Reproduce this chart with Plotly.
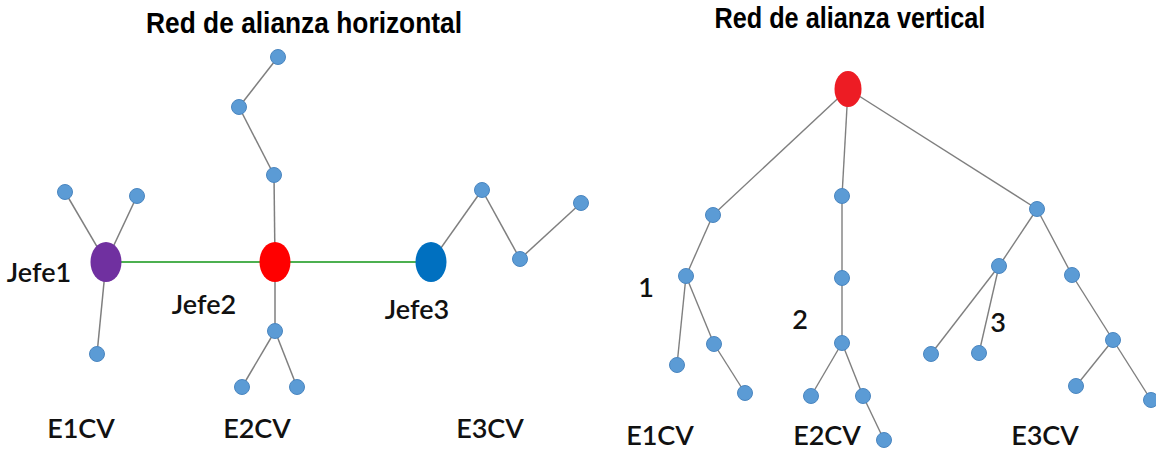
import json
import plotly.graph_objects as go

# ---------------- data ----------------
titles = ["Red de alianza horizontal", "Red de alianza vertical"]
title_x = [304, 850]
title_y = [22, 17]

# Horizontal alliance network (positions in picture units)
h_x = [106, 275, 431, 65, 137, 97, 274, 239, 278, 275, 242, 297, 482, 520, 581]
h_y = [262, 262, 262, 192, 196, 354, 175, 107, 57, 331, 387, 387, 190, 259, 203]
h_edges = [(0, 3), (0, 4), (0, 5), (1, 6), (6, 7), (7, 8), (1, 9), (9, 10), (9, 11),
           (2, 12), (12, 13), (13, 14)]
h_leader_edges = [(0, 1), (1, 2)]
h_leaders = [0, 1, 2]
h_leader_colors = ["#7030A0", "#FF0000", "#0070C0"]

# Vertical alliance network
v_x = [848, 713, 842, 1037, 686, 677, 714, 745, 842, 842, 811, 863, 884,
       999, 1072, 931, 979, 1113, 1076, 1151]
v_y = [89, 215, 196, 209, 276, 365, 344, 393, 278, 343, 396, 396, 440,
       266, 275, 354, 353, 340, 386, 400]
v_edges = [(0, 1), (0, 2), (0, 3), (1, 4), (4, 5), (4, 6), (6, 7), (2, 8), (8, 9),
           (9, 10), (9, 11), (11, 12), (3, 13), (3, 14), (13, 15), (13, 16),
           (14, 17), (17, 18), (17, 19)]
v_root = 0
v_root_color = "#ED1C24"

labels = ["Jefe1", "Jefe2", "Jefe3", "E1CV", "E2CV", "E3CV",
          "1", "2", "3", "E1CV", "E2CV", "E3CV"]
label_x = [39, 204, 417, 81, 257, 490, 646, 800, 998, 660, 827, 1045]
label_y = [275, 307, 312, 431, 431, 431, 290, 322, 325, 438, 438, 438]

# ---------------- styles ----------------
W, H = 1156, 455
NODE = "#5B9BD5"
NODE_LINE = "#4A86C0"
EDGE = "#7F7F7F"
GREEN = "#4CB050"
leader_w, leader_h = 31, 40
root_w, root_h = 27, 36
title_target_widths = [316, 271]


def edge_xy(xs, ys, edges):
    ex, ey = [], []
    for a, b in edges:
        ex += [xs[a], xs[b], None]
        ey += [ys[a], ys[b], None]
    return ex, ey


fig = go.Figure()

ex, ey = edge_xy(h_x, h_y, h_edges)
fig.add_trace(go.Scatter(x=ex, y=ey, mode="lines",
                         line=dict(color=EDGE, width=1.5), hoverinfo="skip"))
ex, ey = edge_xy(v_x, v_y, v_edges)
fig.add_trace(go.Scatter(x=ex, y=ey, mode="lines",
                         line=dict(color=EDGE, width=1.4), hoverinfo="skip"))
ex, ey = edge_xy(h_x, h_y, h_leader_edges)
fig.add_trace(go.Scatter(x=ex, y=ey, mode="lines",
                         line=dict(color=GREEN, width=2), hoverinfo="skip"))

# small nodes
hs = [i for i in range(len(h_x)) if i not in h_leaders]
vs = [i for i in range(len(v_x)) if i != v_root]
fig.add_trace(go.Scatter(x=[h_x[i] for i in hs] + [v_x[i] for i in vs],
                         y=[h_y[i] for i in hs] + [v_y[i] for i in vs],
                         mode="markers",
                         marker=dict(size=15, color=NODE,
                                     line=dict(color=NODE_LINE, width=1)),
                         hoverinfo="skip"))

# leader ellipses
shapes = []
for i, c in zip(h_leaders, h_leader_colors):
    shapes.append(dict(type="circle", xref="x", yref="y",
                       x0=h_x[i] - leader_w / 2, x1=h_x[i] + leader_w / 2,
                       y0=h_y[i] - leader_h / 2, y1=h_y[i] + leader_h / 2,
                       fillcolor=c, line=dict(width=0), layer="above"))
shapes.append(dict(type="circle", xref="x", yref="y",
                   x0=v_x[v_root] - root_w / 2, x1=v_x[v_root] + root_w / 2,
                   y0=v_y[v_root] - root_h / 2, y1=v_y[v_root] + root_h / 2,
                   fillcolor=v_root_color, line=dict(width=0), layer="above"))

# labels
fig.add_trace(go.Scatter(x=label_x, y=label_y, mode="text", text=labels,
                         textposition="middle center",
                         textfont=dict(family="Lato, Carlito, sans-serif",
                                       size=27, color="#111111", weight=600),
                         hoverinfo="skip"))

annotations = []
for t, x, y in zip(titles, title_x, title_y):
    annotations.append(dict(x=x, y=y, xref="x", yref="y", text="<b>" + t + "</b>",
                            showarrow=False, xanchor="center", yanchor="middle",
                            font=dict(family="Liberation Sans, Arial, sans-serif",
                                      size=30, color="#000000")))

fig.update_layout(width=W, height=H, margin=dict(l=0, r=0, t=0, b=0),
                  paper_bgcolor="white", plot_bgcolor="white",
                  showlegend=False, hovermode=False,
                  shapes=shapes, annotations=annotations,
                  xaxis=dict(range=[0, W], visible=False, fixedrange=True),
                  yaxis=dict(range=[H, 0], visible=False, fixedrange=True))

post = """
document.body.style.margin = '0';
var gd = document.getElementById('{plot_id}');
var targets = TARGETS;
var texts = gd.querySelectorAll('g.annotation text.annotation-text');
texts.forEach(function(t, i) {
  if (i >= targets.length) return;
  var bb = t.getBBox();
  if (!bb.width) return;
  var s = targets[i] / bb.width;
  var cx = bb.x + bb.width / 2;
  t.setAttribute('transform', 'translate(' + cx + ',0) scale(' + s + ',1) translate(' + (-cx) + ',0)');
});
""".replace("TARGETS", json.dumps(title_target_widths))

fig.write_html("out.html", config={"displayModeBar": False}, post_script=post)
